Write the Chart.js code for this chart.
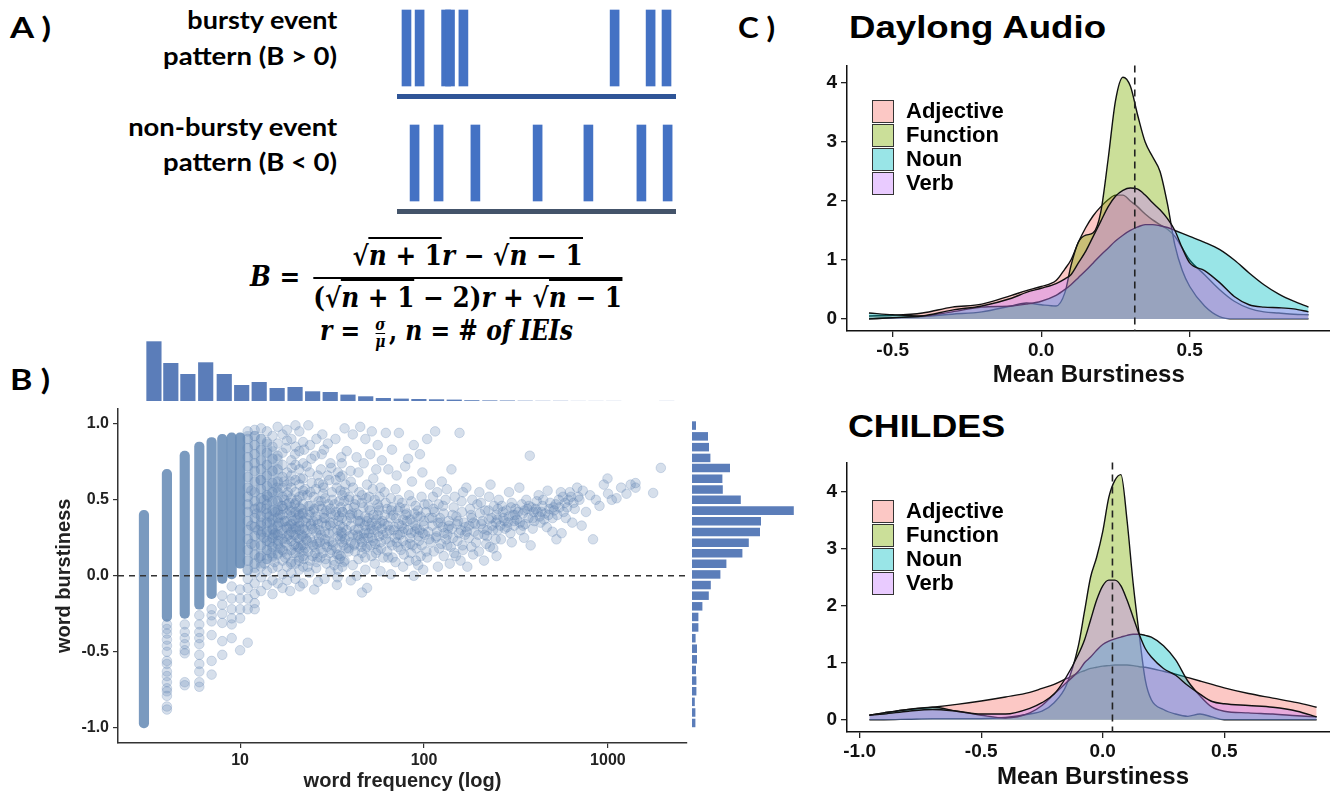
<!DOCTYPE html>
<html lang="en">
<head>
<meta charset="UTF-8">
<title>Word burstiness</title>
<script src="https://cdn.jsdelivr.net/npm/chart.js"></script>
<style>
  html, body { margin:0; padding:0; background:#fff; }
  body { width:1330px; height:793px; overflow:hidden; position:relative; }
  canvas { position:absolute; }
  .lbl { position:absolute; white-space:nowrap; font-family:Lato, 'Open Sans', sans-serif; font-weight:700; color:#000; }
  .panel { font-size:28px; line-height:28px; transform-origin:left center; }
  .evt { font-size:24px; line-height:24px; transform-origin:right center; }
  .math { position:absolute; white-space:nowrap; font-family:'DejaVu Serif', serif; font-weight:700; font-size:27px; line-height:30px; color:#000; transform-origin:left center; }
  .math i { font-style:italic; }
  #fB { display:flex; align-items:center; }
  .lhs { margin-right:14px; }
  .frac { display:inline-flex; flex-direction:column; align-items:stretch; text-align:center; }
  .frac .num { border-bottom:2.5px solid #000; padding:0 4px 6px; }
  .frac .den { padding:4px 0 0; }
  .ol { border-top:2px solid #000; padding-top:1px; }
  .sfrac { display:inline-flex; flex-direction:column; align-items:center; vertical-align:middle; font-size:16px; line-height:15px; margin:0 4px 0 8px; }
  .sfrac span:first-child { border-bottom:1.5px solid #000; padding-bottom:1px; }
  .ttl { position:absolute; white-space:nowrap; font-family:'Liberation Sans', Arial, sans-serif; font-weight:700; font-size:32px; line-height:32px; color:#000; transform-origin:left center; }
  .legend { position:absolute; font-family:'Liberation Sans', Arial, sans-serif; font-weight:700; font-size:22px; color:#000; }
  .legend div { height:24px; display:flex; align-items:center; }
  .legend .box { width:20px; height:21px; border:1.5px solid #333; margin-right:12px; }
</style>
</head>
<body>

<!-- panel letters -->
<div class="lbl panel" id="pA" style="left:10px;top:13px">A )</div>
<div class="lbl panel" id="pB" style="left:10px;top:365px">B )</div>
<div class="lbl panel" id="pC" style="left:738px;top:13px">C )</div>

<!-- A: event patterns -->
<div class="lbl evt" id="e1" style="right:993px;top:8px">bursty event</div>
<div class="lbl evt" id="e2" style="right:993px;top:44px">pattern (B &gt; 0)</div>
<div class="lbl evt" id="e3" style="right:993px;top:115px">non-bursty event</div>
<div class="lbl evt" id="e4" style="right:993px;top:150px">pattern (B &lt; 0)</div>
<canvas id="cEvents" width="279" height="220" style="left:397px;top:0px"></canvas>

<div class="math" id="fB" style="left:250px;top:241px">
  <span class="lhs"><i>B</i> =</span>
  <span class="frac">
    <span class="num">√<span class="ol"><i>n</i> + 1</span><i>r</i> − √<span class="ol"><i>n</i> − 1</span></span>
    <span class="den">(√<span class="ol"><i>n</i> + 1</span> − 2)<i>r</i> + √<span class="ol"><i>n</i> − 1</span></span>
  </span>
</div>
<div class="math" id="fR" style="left:320px;top:316px"><i>r</i> = <span class="sfrac"><span><i>σ</i></span><span><i>μ</i></span></span>, <i>n</i> = # <i>of IEIs</i></div>

<!-- B: scatter with marginal histograms -->
<canvas id="cTop" width="569" height="65" style="left:118px;top:336px"></canvas>
<canvas id="cScatter" width="660" height="398" style="left:40px;top:395px"></canvas>
<canvas id="cRight" width="110" height="339" style="left:692px;top:404px"></canvas>

<!-- C: densities -->
<div class="ttl" id="tDay" style="left:849px;top:11px">Daylong Audio</div>
<canvas id="cDay" width="545" height="340" style="left:800px;top:50px"></canvas>
<div class="ttl" id="tCh" style="left:848px;top:410px">CHILDES</div>
<canvas id="cCh" width="545" height="345" style="left:800px;top:447px"></canvas>
<div class="legend" id="lgDay" style="left:872px;top:99px"></div>
<div class="legend" id="lgCh" style="left:872px;top:499px"></div>

<script>
  // ---- A: event times (arbitrary time units 0-100)
  const eventsBursty = [3.4, 8.1, 17.6, 19.0, 23.8, 78.0, 90.9, 96.6];
  const eventsRegular = [6.3, 14.9, 28.1, 50.4, 68.6, 87.6, 97.0];

  // ---- B: scatter, word frequency vs burstiness
  const freqTicks = [10, 100, 1000];
  const burstTicks = [-1, -0.5, 0, 0.5, 1];

  // dense stacks of points at the low integer frequencies
  const colFreq = [3, 4, 5, 6, 7, 8, 9, 10, 11, 12, 13, 14, 15, 16];
  const colLow = [-1.0, -0.30, -0.28, -0.22, -0.15, -0.05, -0.02, 0.05, 0.0, 0.02, 0.05, 0.08, 0.1, 0.12];
  const colHigh = [0.43, 0.70, 0.82, 0.88, 0.91, 0.93, 0.94, 0.94, 0.95, 0.95, 0.93, 0.9, 0.85, 0.8];

  const tailPts = [
    [4,-0.32],[4,-0.35],[4,-0.38],[4,-0.42],[4,-0.46],[4,-0.5],[4,-0.56],[4,-0.58],[4,-0.63],[4,-0.66],[4,-0.7],[4,-0.74],[4,-0.76],[4,-0.79],[4,-0.86],[4,-0.88],
    [5,-0.32],[5,-0.37],[5,-0.41],[5,-0.45],[5,-0.49],[5,-0.51],[5,-0.7],[5,-0.72],
    [6,-0.26],[6,-0.32],[6,-0.37],[6,-0.41],[6,-0.45],[6,-0.52],[6,-0.58],[6,-0.63],[6,-0.7],[6,-0.73],
    [7,-0.22],[7,-0.26],[7,-0.3],[7,-0.39],[7,-0.56],[7,-0.65],
    [8,-0.13],[8,-0.19],[8,-0.25],[8,-0.31],[8,-0.43],[8,-0.52],
    [9,-0.07],[9,-0.15],[9,-0.22],[9,-0.28],[9,-0.32],[9,-0.41],
    [10,-0.09],[10,-0.15],[10,-0.22],[10,-0.28],[10,-0.49],
    [11,-0.15],[11,-0.22],[11,-0.44],[12,-0.22]
  ];

  const cloudPts = [
    [11,0.95],[11,0.9],[11,0.84],[11,0.78],[11,0.72],[11,0.65],[11,0.58],[11,0.52],[11,0.47],[11,0.42],[11,0.36],[11,0.3],[11,0.24],[11,0.17],[11,0.1],[11,0.04],[11,-0.02],[11,-0.08],
    [12,0.96],[12,0.92],[12,0.86],[12,0.8],[12,0.74],[12,0.69],[12,0.62],[12,0.55],[12,0.49],[12,0.44],[12,0.38],[12,0.32],[12,0.26],[12,0.2],[12,0.14],[12,0.08],[12,0.02],[12,-0.05],[12,-0.12],[12,-0.18],
    [13,0.97],[13,0.9],[13,0.83],[13,0.76],[13,0.7],[13,0.63],[13,0.57],[13,0.51],[13,0.45],[13,0.39],[13,0.33],[13,0.27],[13,0.2],[13,0.13],[13,0.06],[13,-0.01],[13,-0.1],
    [14,0.95],[14,0.88],[14,0.81],[14,0.73],[14,0.66],[14,0.59],[14,0.53],[14,0.47],[14,0.41],[14,0.35],[14,0.29],[14,0.23],[14,0.17],[14,0.11],[14,0.03],[14,-0.06],
    [15,0.92],[15,0.85],[15,0.77],[15,0.69],[15,0.61],[15,0.55],[15,0.49],[15,0.43],[15,0.37],[15,0.31],[15,0.25],[15,0.19],[15,0.12],[15,0.05],[15,-0.03],[15,-0.12],
    [16,0.98],[16,0.87],[16,0.79],[16,0.7],[16,0.62],[16,0.55],[16,0.49],[16,0.43],[16,0.38],[16,0.33],[16,0.27],[16,0.21],[16,0.14],[16,0.06],[16,-0.05],
    [17,0.93],[17,0.81],[17,0.73],[17,0.65],[17,0.58],[17,0.52],[17,0.46],[17,0.4],[17,0.35],[17,0.3],[17,0.24],[17,0.17],[17,0.1],[17,0.01],[17,-0.08],
    [18,0.96],[18,0.89],[18,0.68],[18,0.6],[18,0.53],[18,0.47],[18,0.41],[18,0.36],[18,0.31],[18,0.26],[18,0.2],[18,0.14],[18,0.06],[18,-0.03],
    [19,0.9],[19,0.76],[19,0.66],[19,0.58],[19,0.51],[19,0.45],[19,0.39],[19,0.34],[19,0.29],[19,0.23],[19,0.17],[19,0.09],[19,0.02],
    [20,0.99],[20,0.85],[20,0.73],[20,0.63],[20,0.55],[20,0.48],[20,0.42],[20,0.37],[20,0.32],[20,0.27],[20,0.21],[20,0.15],[20,0.08],[20,-0.02],
    [21,0.95],[21,0.82],[21,0.7],[21,0.6],[21,0.52],[21,0.45],[21,0.4],[21,0.35],[21,0.3],[21,0.24],[21,0.18],[21,0.12],[21,0.04],
    [22,0.88],[22,0.74],[22,0.64],[22,0.56],[22,0.47],[22,0.41],[22,0.36],[22,0.31],[22,0.26],[22,0.2],[22,0.13],[22,0.06],[22,-0.05],
    [23.5,0.99],[24,0.86],[23,0.72],[24.5,0.61],[23.2,0.53],[24,0.46],[23.7,0.4],[24.3,0.34],[23,0.28],[24.6,0.22],[23.4,0.16],[24,0.1],[23.8,0.02],
    [26,0.9],[25.5,0.79],[26.4,0.66],[25.8,0.57],[26.7,0.49],[25.2,0.43],[26.2,0.37],[25.6,0.31],[26.9,0.25],[25.4,0.19],[26.3,0.12],[25.9,0.05],[26.5,-0.04],
    [28,0.93],[28.6,0.83],[27.5,0.7],[28.2,0.6],[29,0.51],[27.8,0.44],[28.5,0.38],[29.3,0.33],[27.6,0.27],[28.9,0.21],[28.1,0.15],[29.5,0.08],
    [30,0.87],[31,0.74],[30.5,0.63],[31.6,0.55],[30.2,0.47],[31.2,0.41],[30.8,0.35],[32,0.29],[30.4,0.23],[31.4,0.17],[32.2,0.1],[31,0.03],
    [33,0.9],[34,0.68],[33.5,0.58],[34.6,0.49],[33.2,0.42],[34.2,0.36],[33.8,0.3],[35,0.24],[33.4,0.18],[34.8,0.11],[34,0.04],[33.6,-0.06],
    [35.5,0.78],[35,0.65],[36,0.53],[35.3,0.45],[35.8,0.38],[36.3,0.32],[35.6,0.26],[36.5,0.2],[35.2,0.13],[36,0.06],
    [12.5,0.3],[13.5,0.25],[14.5,0.35],[15.5,0.28],[16.5,0.4],[17.5,0.22],[18.5,0.33],[19.5,0.27],[20.5,0.38],[21.5,0.2],[22.5,0.3],[24,0.25],[25,0.36],[27,0.3],[29,0.24],[32,0.35],[36,0.28],[40,0.33],[44,0.26],[48,0.3],[52,0.35],[56,0.29],
    [12.5,0.45],[13.5,0.5],[14.5,0.22],[15.5,0.42],[16.5,0.18],[17.5,0.36],[18.5,0.48],[19.5,0.15],[20.5,0.25],[21.5,0.44],[22.5,0.18],[24,0.42],[25,0.2],[27,0.46],[29,0.38],[32,0.2],[36,0.42],[40,0.22],[44,0.4],[48,0.18],[52,0.25],[56,0.4],
    [13,0.35],[15,0.3],[17,0.28],[19,0.42],[21,0.33],[23,0.38],[26,0.28],[28,0.35],[31,0.44],[34,0.26],[38,0.36],[42,0.3],[46,0.22],[50,0.38],[58,0.22],
    [17.3,0.62],[18.2,0.55],[19.1,0.71],[20.4,0.5],[21.3,0.64],[22.6,0.57],[23.9,0.68],[25.1,0.52],[26.8,0.61],[28.3,0.54],[29.9,0.66],[31.7,0.5],[33.2,0.63],[35.1,0.56],[37.4,0.6],[39.2,0.52],
    [17.6,0.12],[18.9,0.08],[19.7,0.2],[20.9,0.1],[22.1,0.16],[23.3,0.06],[24.8,0.13],[26.1,0.09],[27.4,0.18],[29.2,0.11],[30.7,0.15],[32.5,0.07],[34.4,0.14],[36.6,0.09],[38.8,0.16],
    [17.1,0.44],[18.4,0.27],[19.3,0.36],[20.2,0.31],[21.8,0.41],[22.9,0.24],[24.2,0.33],[25.7,0.39],[27.1,0.22],[28.7,0.41],[30.3,0.28],[32.8,0.4],[34.9,0.33],[37.1,0.24],[39.6,0.4],
    [17.8,0.84],[19.9,0.8],[22.3,0.83],[24.4,0.77],[27.8,0.8],[31.3,0.71],[35.7,0.74],[39.9,0.69],
    [18.7,-0.1],[21.1,-0.07],[25.3,-0.09],[28.8,-0.02],[33.9,-0.01],
    [11.5,0.33],[11.5,0.21],[11.5,0.56],[12.3,0.41],[12.7,0.12],[12.9,0.63],[13.2,0.29],[13.8,0.44],[13.6,0.08],[14.2,0.52],[14.7,0.15],[14.4,0.39],[15.2,0.27],[15.8,0.58],[15.4,0.09],[16.3,0.35],[16.8,0.46],[16.1,0.23],[17.4,0.5],[17.9,0.32],[17.2,0.16],[18.6,0.43],[18.1,0.24],[18.8,0.62],
    [19.4,0.31],[19.8,0.47],[20.6,0.19],[20.8,0.41],[21.6,0.27],[21.9,0.53],[22.8,0.35],[22.2,0.11],[23.6,0.46],[23.1,0.23],[24.7,0.31],[24.1,0.55],[25.6,0.15],[25.3,0.44],[26.6,0.34],[26.2,0.21],[27.7,0.49],[27.3,0.12],[28.9,0.29],[28.4,0.58],[29.7,0.19],[29.4,0.43],[30.9,0.33],[31.8,0.22],[32.6,0.47],[33.7,0.14],[34.5,0.39],[35.4,0.29],[36.8,0.49],[37.7,0.18],[38.5,0.44],[39.3,0.26],
    [37,0.97],[41,0.93],[45,0.98],[48,0.9],[52,0.95],[56,0.86],
    [38,0.82],[43,0.78],[47,0.74],[51,0.8],[55,0.7],[59,0.76],
    [36,0.66],[40,0.62],[44,0.68],[49,0.6],[53,0.64],[58,0.58],
    [37,0.55],[39,0.5],[42,0.47],[46,0.53],[50,0.45],[54,0.5],[57,0.43],
    [36,0.42],[40,0.38],[43,0.41],[45,0.35],[48,0.39],[51,0.33],[55,0.37],[59,0.31],
    [38,0.3],[41,0.27],[44,0.31],[47,0.25],[50,0.28],[53,0.23],[57,0.26],
    [36,0.22],[39,0.18],[42,0.21],[46,0.15],[49,0.19],[52,0.13],[56,0.17],[60,0.12],
    [37,0.1],[41,0.07],[44,0.11],[48,0.04],[54,0.08],[58,0.03],
    [40,-0.03],[46,-0.11],[49,-0.08],[43,0.0],
    [41.5,0.45],[43.8,0.36],[45.9,0.48],[47.6,0.33],[50.8,0.43],[53.6,0.3],[55.9,0.47],[59.3,0.36],[62.7,0.28],[65.8,0.38],[69.4,0.25],[72.9,0.34],[76.6,0.29],[80.7,0.36],[85.2,0.28],[89.8,0.33],[94.6,0.3],[99.8,0.36],[105.5,0.29],
    [42.2,0.16],[45.1,0.24],[47.9,0.12],[51.4,0.2],[54.8,0.15],[58.4,0.18],[63.1,0.16],[67.5,0.12],[72.2,0.19],[77.8,0.14],[83.9,0.21],[90.4,0.1],[97.2,0.2],[104.1,0.12],
    [41.1,0.58],[44.5,0.55],[48.6,0.51],[52.7,0.57],[57.3,0.52],[61.8,0.48],[66.9,0.45],[72.6,0.5],[78.8,0.44],[85.5,0.49],[92.8,0.43],[100.6,0.47],
    [40.7,0.41],[41.8,0.2],[42.9,0.5],[43.5,0.27],[44.9,0.36],[45.6,0.19],[46.8,0.45],[47.3,0.28],[48.9,0.36],[49.6,0.25],[50.3,0.52],[51.9,0.31],[53.1,0.4],[54.3,0.21],[55.2,0.33],[56.7,0.45],[57.9,0.35],[59.8,0.27],
    [62,0.94],[73,0.94],[88,0.86],[95,0.8],[82,0.77],[67,0.83],[104,0.9],
    [64,0.7],[71,0.66],[79,0.72],[86,0.62],[98,0.68],[108,0.6],
    [61,0.55],[66,0.51],[70,0.57],[76,0.48],[83,0.53],[90,0.46],[97,0.52],[105,0.47],
    [63,0.44],[68,0.4],[72,0.43],[77,0.37],[81,0.41],[87,0.35],[92,0.39],[100,0.33],[107,0.38],
    [61,0.34],[65,0.3],[69,0.32],[74,0.27],[78,0.31],[84,0.25],[89,0.29],[94,0.23],[101,0.27],[109,0.22],
    [62,0.24],[67,0.2],[71,0.22],[75,0.17],[80,0.2],[85,0.15],[91,0.18],[96,0.13],[103,0.16],
    [64,0.12],[70,0.09],[77,0.06],[83,0.1],[93,0.07],[99,0.04],[66,0.01],[88,0.0],
    [61.3,0.4],[63.5,0.33],[65.1,0.22],[66.2,0.43],[68.3,0.3],[70.6,0.38],[71.9,0.27],[73.8,0.45],[75.7,0.33],[77.1,0.23],[79.6,0.4],[81.8,0.3],[84.4,0.37],[86.6,0.2],[88.7,0.41],[91.5,0.31],[93.4,0.26],[95.8,0.39],[98.4,0.28],[102.3,0.42],[106.7,0.24],
    [115,0.95],[156,0.94],[141,0.7],[125,0.62],[170,0.58],[200,0.55],[230,0.6],
    [112,0.52],[120,0.47],[131,0.5],[145,0.45],[160,0.49],[178,0.44],[195,0.47],[215,0.43],[240,0.46],[255,0.5],
    [114,0.42],[122,0.38],[128,0.41],[136,0.36],[150,0.39],[165,0.35],[182,0.38],[205,0.34],[225,0.37],[248,0.4],
    [111,0.33],[118,0.29],[126,0.32],[134,0.27],[142,0.31],[155,0.28],[168,0.32],[188,0.29],[210,0.31],[235,0.33],[252,0.3],
    [116,0.25],[124,0.21],[132,0.24],[140,0.19],[152,0.23],[162,0.2],[175,0.25],[192,0.22],[220,0.26],[245,0.24],
    [113,0.16],[128,0.13],[146,0.15],[158,0.1],[185,0.14],[228,0.19],[248,0.13],
    [119,0.06],[138,0.08],[172,0.06],[212,0.1],
    [111,0.38],[117,0.26],[123,0.35],[129,0.28],[137,0.33],[144,0.25],[151,0.34],[159,0.3],[167,0.27],[176,0.33],[186,0.35],[197,0.27],[208,0.36],[221,0.3],[233,0.38],[246,0.35],[260,0.33],[274,0.36],[289,0.39],
    [121,0.18],[134,0.2],[149,0.13],[163,0.17],[181,0.19],[199,0.16],[218,0.21],[238,0.18],
    [118,0.55],[133,0.57],[147,0.52],[163,0.55],[183,0.5],[204,0.48],[226,0.52],[252,0.44],
    [112.5,0.44],[119.5,0.35],[127,0.46],[135,0.31],[143,0.4],[153,0.36],[161,0.42],[171,0.29],[180,0.4],[190,0.34],[201,0.41],[213,0.27],[224,0.43],[237,0.3],[251,0.37],
    [376,0.79],[290,0.55],[330,0.58],[420,0.53],[470,0.56],[540,0.5],
    [265,0.46],[280,0.43],[300,0.48],[315,0.44],[340,0.47],[360,0.5],[385,0.45],[410,0.49],[440,0.46],[480,0.44],[520,0.47],
    [270,0.38],[285,0.35],[305,0.4],[320,0.37],[345,0.41],[370,0.38],[395,0.42],[425,0.39],[455,0.41],[500,0.38],
    [275,0.31],[295,0.28],[310,0.33],[335,0.3],[355,0.34],[390,0.31],[430,0.35],[465,0.32],
    [262,0.24],[300,0.22],[350,0.25],[499,0.29],[525,0.24],[380,0.2],
    [310,0.36],[325,0.42],[345,0.33],[365,0.44],[390,0.38],[405,0.44],[435,0.42],[450,0.37],[485,0.48],[510,0.43],[545,0.45],[575,0.42],[610,0.5],[660,0.44],[690,0.52],
    [268,0.42],[283,0.32],[298,0.45],[313,0.4],[332,0.35],[352,0.43],[372,0.46],[398,0.36],[415,0.42],[445,0.5],[475,0.4],[505,0.45],[530,0.4],[555,0.55],[585,0.48],[630,0.52],
    [570,0.52],[600,0.45],[620,0.55],[650,0.48],[680,0.58],[700,0.5],[730,0.56],[760,0.42],[800,0.53],[830,0.24],
    [860,0.5],[900,0.46],[950,0.6],[995,0.64],[1002,0.54],[1050,0.5],[1114,0.51],[1180,0.58],[1262,0.54],[1330,0.6],
    [1413,0.61],[1413,0.58],[1762,0.545],[1940,0.71],[640,0.35],[590,0.38],[720,0.33],[560,0.28]
  ];

  // marginal histograms
  const topBinFreq = [3.4,4.2,5.2,6.5,8.2,10.2,12.7,15.9,19.9,24.8,30.9,38.6,48.2,60.1,75.2,93.8,117,146,182,228,284,355,443,553,690,861,1076,1343,1675,2089];
  const topBinCount = [597,380,270,387,270,160,190,130,140,97,90,64,47,30,24,20,17,14,8,6,5,3,2,2,1,1,1,0,0,1];
  const rightBinB = [0.96,0.89,0.82,0.75,0.685,0.615,0.545,0.478,0.408,0.339,0.27,0.2,0.132,0.063,-0.006,-0.075,-0.144,-0.213,-0.282,-0.35,-0.42,-0.488,-0.557,-0.626,-0.695,-0.764,-0.833,-0.902,-0.97];
  const rightBinCount = [20,80,85,92,190,152,154,244,509,345,340,284,252,172,142,94,84,52,32,32,18,25,25,20,22,22,14,17,17];

  // ---- C: densities of mean burstiness by word class
  const wordClasses = ['Adjective', 'Function', 'Noun', 'Verb'];
  const classColors = ['#F8766D', '#7CAE00', '#00BFC4', '#C77CFF'];

  const dayX = [-0.58,-0.5,-0.4,-0.3,-0.2,-0.1,-0.05,0,0.05,0.08,0.1,0.125,0.15,0.175,0.2,0.225,0.25,0.275,0.3,0.325,0.35,0.375,0.4,0.425,0.45,0.475,0.5,0.55,0.6,0.65,0.7,0.75,0.8,0.85,0.9];
  const dayAdj = [0.05,0.06,0.1,0.2,0.25,0.4,0.48,0.55,0.65,0.85,1.0,1.3,1.55,1.75,1.9,2.02,2.1,2.1,2.0,1.9,1.78,1.68,1.6,1.52,1.4,1.2,1.0,0.75,0.5,0.3,0.18,0.12,0.1,0.08,0.07];
  const dayFun = [0.0,0.02,0.04,0.08,0.12,0.22,0.27,0.24,0.22,0.45,0.9,1.3,1.42,1.46,1.8,2.7,3.7,4.1,3.95,3.45,3.0,2.75,2.5,1.95,1.25,0.82,0.55,0.22,0.04,0,0,0,0,0,0];
  const dayNoun = [0.1,0.07,0.05,0.12,0.2,0.22,0.25,0.3,0.4,0.5,0.58,0.7,0.82,0.95,1.08,1.2,1.32,1.42,1.5,1.56,1.6,1.6,1.58,1.55,1.5,1.45,1.4,1.3,1.18,1.0,0.78,0.58,0.42,0.3,0.2];
  const dayVerb = [0.0,0.02,0.05,0.15,0.22,0.35,0.45,0.52,0.6,0.68,0.75,0.95,1.15,1.4,1.65,1.9,2.08,2.18,2.22,2.2,2.1,1.97,1.85,1.7,1.5,1.2,0.95,0.82,0.62,0.38,0.24,0.2,0.19,0.17,0.12];
  const dayMean = 0.315;
  const dayXTicks = [-0.5, 0, 0.5];

  const chX = [-0.96,-0.9,-0.8,-0.7,-0.6,-0.5,-0.4,-0.3,-0.25,-0.2,-0.15,-0.1,-0.075,-0.05,-0.025,0,0.025,0.05,0.075,0.1,0.125,0.15,0.175,0.2,0.25,0.3,0.35,0.4,0.45,0.5,0.6,0.7,0.8,0.88];
  const chAdj = [0.08,0.12,0.18,0.22,0.27,0.33,0.4,0.48,0.55,0.62,0.72,0.82,0.86,0.9,0.92,0.94,0.95,0.96,0.96,0.96,0.95,0.93,0.92,0.9,0.85,0.8,0.74,0.68,0.62,0.56,0.46,0.38,0.3,0.22];
  const chFun = [0,0,0.01,0.02,0.02,0.02,0.04,0.1,0.15,0.3,0.6,1.3,1.9,2.5,2.85,3.3,3.9,4.2,4.3,3.5,2.4,1.5,0.7,0.35,0.18,0.1,0.06,0.1,0.05,0,0,0,0,0];
  const chNoun = [0.08,0.12,0.18,0.22,0.15,0.08,0.03,0.12,0.25,0.45,0.65,0.85,1.0,1.1,1.22,1.32,1.38,1.42,1.45,1.48,1.5,1.5,1.48,1.45,1.3,1.05,0.68,0.42,0.22,0.15,0.12,0.1,0.07,0.05];
  const chVerb = [0.08,0.1,0.15,0.18,0.15,0.1,0.1,0.2,0.3,0.45,0.75,1.15,1.4,1.75,2.1,2.35,2.45,2.45,2.35,2.1,1.8,1.5,1.25,1.1,0.9,0.78,0.6,0.45,0.32,0.28,0.25,0.22,0.15,0.05];
  const chMean = 0.04;
  const chXTicks = [-1, -0.5, 0, 0.5];
  const densYTicks = [0, 1, 2, 3, 4];

  // ---------------------------------------------------------------
  const refLine = {
    id: 'refLine',
    afterDatasetsDraw(chart, args, opts) {
      if (opts.value === undefined) return;
      const {ctx, chartArea: a, scales} = chart;
      ctx.save();
      ctx.setLineDash(opts.dash);
      ctx.lineWidth = opts.width;
      ctx.strokeStyle = opts.color;
      ctx.beginPath();
      if (opts.axis === 'x') {
        const px = scales.x.getPixelForValue(opts.value);
        ctx.moveTo(px, a.top); ctx.lineTo(px, a.bottom);
      } else {
        const py = scales.y.getPixelForValue(opts.value);
        ctx.moveTo(a.left, py); ctx.lineTo(a.right, py);
      }
      ctx.stroke();
      ctx.restore();
    }
  };

  function rgba(hex, a) {
    const n = parseInt(hex.slice(1), 16);
    return 'rgba(' + (n >> 16) + ',' + ((n >> 8) & 255) + ',' + (n & 255) + ',' + a + ')';
  }
  const setTicks = arr => s => { s.ticks = arr.map(v => ({value: v})); };
  const noLegend = {legend: {display: false}, tooltip: {enabled: false}};

  Chart.defaults.font.family = "'Liberation Sans', Arial, sans-serif";
  Chart.defaults.font.weight = 'bold';
  Chart.defaults.color = '#111';

  // A: event patterns
  new Chart(document.getElementById('cEvents'), {
    type: 'bar',
    data: {
      datasets: [
        {type: 'line', data: [{x: 0, y: 1.235}, {x: 100, y: 1.235}], borderColor: '#2F5597', borderWidth: 5, pointRadius: 0, borderCapStyle: 'butt'},
        {type: 'line', data: [{x: 0, y: 0.085}, {x: 100, y: 0.085}], borderColor: '#44546A', borderWidth: 5, pointRadius: 0, borderCapStyle: 'butt'},
        {data: eventsBursty.map(t => ({x: t, y: [1.34, 2.1]})).concat(eventsRegular.map(t => ({x: t, y: [0.19, 0.95]}))),
         backgroundColor: '#4472C4', barThickness: 9, grouped: false}
      ]
    },
    options: {
      responsive: false, animation: false, events: [],
      layout: {padding: 0},
      plugins: noLegend,
      scales: {
        x: {type: 'linear', min: 0, max: 100, display: false, offset: false, grid: {offset: false}},
        y: {min: 0, max: 2.2, display: false}
      }
    }
  });

  // B: top marginal histogram
  new Chart(document.getElementById('cTop'), {
    type: 'bar',
    data: {datasets: [{data: topBinFreq.map((f, i) => ({x: f, y: topBinCount[i]})), backgroundColor: '#5B7DB9', barPercentage: 0.9, categoryPercentage: 1}]},
    options: {
      responsive: false, animation: false, events: [],
      layout: {padding: 0},
      plugins: noLegend,
      scales: {
        x: {type: 'logarithmic', min: 2.168, max: 2692, display: false, offset: false, grid: {offset: false}},
        y: {min: 0, max: 650, display: false}
      }
    }
  });

  // B: right marginal histogram
  new Chart(document.getElementById('cRight'), {
    type: 'bar',
    data: {datasets: [{data: rightBinB.map((b, i) => ({x: rightBinCount[i], y: b})), backgroundColor: '#5B7DB9', barPercentage: 0.85, categoryPercentage: 1}]},
    options: {
      indexAxis: 'y',
      responsive: false, animation: false, events: [],
      layout: {padding: 0},
      plugins: noLegend,
      scales: {
        y: {type: 'linear', min: -1.1, max: 1.1, display: false, offset: false, grid: {offset: false}},
        x: {min: 0, max: 550, display: false}
      }
    }
  });

  // B: scatter
  const ptStyle = {pointRadius: 4.8, backgroundColor: 'rgba(96,133,177,0.26)', borderColor: 'rgba(96,133,177,0.26)', borderWidth: 1};
  const axisB = {
    grid: {display: true, drawOnChartArea: false, offset: false, tickLength: 5, color: '#333', lineWidth: 1.2},
    border: {display: true, color: '#333', width: 1.5}
  };
  new Chart(document.getElementById('cScatter'), {
    type: 'scatter',
    data: {
      datasets: [
        Object.assign({data: cloudPts.map(p => ({x: p[0], y: p[1]}))}, ptStyle),
        Object.assign({data: tailPts.map(p => ({x: p[0], y: p[1]}))}, ptStyle),
        {type: 'bar', data: colFreq.map((f, i) => ({x: f, y: [colLow[i], colHigh[i]]})),
         backgroundColor: c => (c.raw && c.raw.x > 10) ? 'rgba(104,140,182,0.32)' : 'rgba(104,140,182,0.88)',
         barThickness: 9.5, borderRadius: 5, borderSkipped: false, grouped: false}
      ]
    },
    options: {
      responsive: false, animation: false, events: [],
      layout: {padding: {left: 0, right: 13, top: 9, bottom: 0}},
      plugins: Object.assign({refLine: {axis: 'y', value: 0, dash: [6, 5], width: 1.5, color: '#333'}}, noLegend),
      scales: {
        x: Object.assign({
          type: 'logarithmic', min: 2.168, max: 2692, offset: false,
          afterFit: s => { s.height = 50; },
          afterBuildTicks: setTicks(freqTicks),
          ticks: {callback: v => String(v), font: {size: 16, weight: 'bold'}, color: '#222', padding: 3, maxRotation: 0, autoSkip: false},
          title: {display: true, text: 'word frequency (log)', font: {size: 20, weight: 'bold'}, color: '#222', padding: {top: 0, bottom: 0}}
        }, axisB),
        y: Object.assign({
          min: -1.1, max: 1.1,
          afterFit: s => { s.width = 78; },
          afterBuildTicks: setTicks(burstTicks),
          ticks: {callback: v => v.toFixed(1), font: {size: 16, weight: 'bold'}, color: '#222', padding: 4},
          title: {display: true, text: 'word burstiness', font: {size: 20, weight: 'bold'}, color: '#222', padding: {top: 12, bottom: 0}}
        }, axisB)
      }
    },
    plugins: [refLine]
  });

  // C: density panels
  function densityChart(id, xs, series, mean, xr, yr, xTicks, xAxisH, pad) {
    const order = [4, 3, 2, 1];
    return new Chart(document.getElementById(id), {
      type: 'line',
      data: {
        datasets: series.map((ys, k) => ({
          label: wordClasses[k],
          data: xs.map((x, i) => ({x: x, y: ys[i]})),
          fill: 'origin',
          backgroundColor: rgba(classColors[k], 0.4),
          borderColor: '#111',
          borderWidth: 1.4,
          pointRadius: 0,
          cubicInterpolationMode: 'monotone',
          order: order[k]
        }))
      },
      options: {
        responsive: false, animation: false, events: [],
        layout: {padding: pad},
        plugins: Object.assign({refLine: {axis: 'x', value: mean, dash: [7, 5], width: 1.6, color: '#222'}}, noLegend),
        scales: {
          x: {
            type: 'linear', min: xr[0], max: xr[1],
            afterFit: s => { s.height = xAxisH; },
            afterBuildTicks: setTicks(xTicks),
            ticks: {callback: v => v.toFixed(1), font: {size: 19, weight: 'bold'}, color: '#111', padding: 2, maxRotation: 0, autoSkip: false},
            grid: {display: true, drawOnChartArea: false, tickLength: 6, color: '#222', lineWidth: 1.3},
            border: {display: true, color: '#111', width: 1.5},
            title: {display: true, text: 'Mean Burstiness', font: {size: 24, weight: 'bold'}, color: '#111', padding: {top: 0, bottom: 0}}
          },
          y: {
            min: yr[0], max: yr[1],
            afterFit: s => { s.width = 47; },
            afterBuildTicks: setTicks(densYTicks),
            ticks: {callback: v => String(v), font: {size: 19, weight: 'bold'}, color: '#111', padding: 4},
            grid: {display: true, drawOnChartArea: false, tickLength: 6, color: '#222', lineWidth: 1.3},
            border: {display: true, color: '#111', width: 1.5}
          }
        }
      },
      plugins: [refLine]
    });
  }

  densityChart('cDay', dayX, [dayAdj, dayFun, dayNoun, dayVerb], dayMean,
    [-0.654, 0.974], [-0.205, 4.3], dayXTicks, 59, {left: 0, right: 14.5, top: 11, bottom: 0});
  densityChart('cCh', chX, [chAdj, chFun, chNoun, chVerb], chMean,
    [-1.052, 0.972], [-0.215, 4.515], chXTicks, 60, {left: 0, right: 6, top: 11, bottom: 0});

  // legends
  ['lgDay', 'lgCh'].forEach(id => {
    const box = document.getElementById(id);
    wordClasses.forEach((name, k) => {
      const row = document.createElement('div');
      const sw = document.createElement('span');
      sw.className = 'box';
      sw.style.background = rgba(classColors[k], 0.4);
      row.appendChild(sw);
      row.appendChild(document.createTextNode(name));
      box.appendChild(row);
    });
  });

  // stretch text boxes to the widths they have in the figure
  function fitW(id, w) {
    const el = document.getElementById(id);
    const cur = el.getBoundingClientRect().width;
    el.style.transform = 'scaleX(' + (w / cur) + ')';
  }
  fitW('pA', 41); fitW('pB', 40); fitW('pC', 37);
  fitW('e1', 150); fitW('e2', 174); fitW('e3', 209); fitW('e4', 174);
  fitW('fB', 372); fitW('fR', 253);
  fitW('tDay', 257); fitW('tCh', 157);
</script>
</body>
</html>
